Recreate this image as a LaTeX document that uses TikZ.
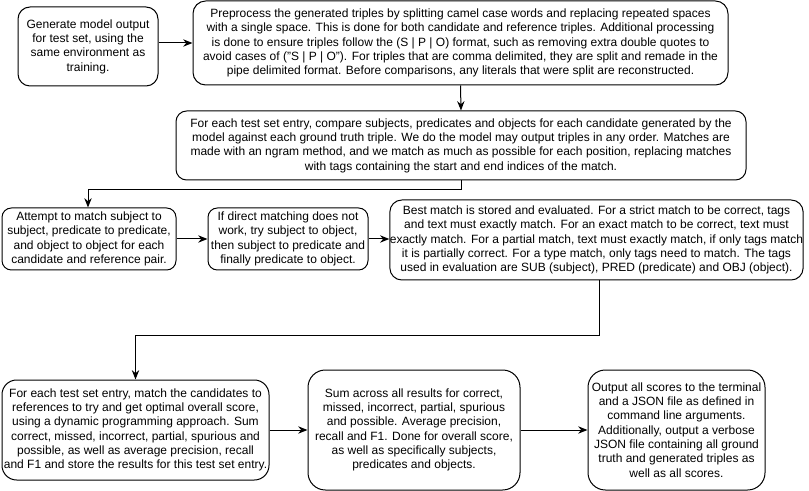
\documentclass[tikz,border=0pt]{standalone}
\usepackage{fontspec}
\setmainfont{Liberation Sans}
\usetikzlibrary{arrows.meta}
\begin{document}
\begin{tikzpicture}[x=0.75pt,y=-0.75pt,
  box/.style={draw,line width=0.75pt,align=center,inner sep=0pt,
    font=\fontsize{9}{10.75}\selectfont},
  conn/.style={draw,line width=0.75pt,-{Stealth[length=7pt,width=5.5pt]}}]
\useasboundingbox (0,0) rectangle (809,491);
\node[box,rounded corners=9pt,minimum width=140*0.75pt,minimum height=79*0.75pt] (A) at (88,46.5)
{Generate model output\\for test set, using the\\same environment as\\training.};
\node[box,rounded corners=9.5pt,minimum width=535*0.75pt,minimum height=84*0.75pt] (B) at (460.5,43)
{Preprocess the generated triples by splitting camel case words and replacing repeated spaces\\
with a single space. This is done for both candidate and reference triples. Additional processing\\
is done to ensure triples follow the (S | P | O) format, such as removing extra double quotes to\\
avoid cases of ("S | P | O"). For triples that are comma delimited, they are split and remade in the\\
pipe delimited format. Before comparisons, any literals that were split are reconstructed.};
\node[box,rounded corners=8pt,minimum width=570*0.75pt,minimum height=69*0.75pt] (C) at (461,145.5)
{For each test set entry, compare subjects, predicates and objects for each candidate generated by the\\
model against each ground truth triple. We do the model may output triples in any order. Matches are\\
made with an ngram method, and we match as much as possible for each position, replacing matches\\
with tags containing the start and end indices of the match.};
\node[box,rounded corners=7pt,minimum width=174*0.75pt,minimum height=62*0.75pt] (D) at (89,239)
{Attempt to match subject to\\subject, predicate to predicate,\\and object to object for each\\candidate and reference pair.};
\node[box,rounded corners=7pt,minimum width=160*0.75pt,minimum height=62*0.75pt] (E) at (288,239)
{If direct matching does not\\work, try subject to object,\\then subject to predicate and\\finally predicate to object.};
\node[box,rounded corners=9pt,minimum width=413*0.75pt,minimum height=80*0.75pt] (F) at (596.5,240)
{Best match is stored and evaluated. For a strict match to be correct, tags\\
and text must exactly match. For an exact match to be correct, text must\\
exactly match. For a partial match, text must exactly match, if only tags match\\
it is partially correct. For a type match, only tags need to match. The tags\\
used in evaluation are SUB (subject), PRED (predicate) and OBJ (object).};
\node[box,rounded corners=11pt,minimum width=267*0.75pt,minimum height=100*0.75pt] (G) at (135.5,430)
{For each test set entry, match the candidates to\\references to try and get optimal overall score,\\
using a dynamic programming approach. Sum\\correct, missed, incorrect, partial, spurious and\\
possible, as well as average precision, recall\\and F1 and store the results for this test set entry.};
\node[box,rounded corners=13pt,minimum width=212*0.75pt,minimum height=120*0.75pt] (H) at (414,430)
{Sum across all results for correct,\\missed, incorrect, partial, spurious\\and possible. Average precision,\\
recall and F1. Done for overall score,\\as well as specifically subjects,\\predicates and objects.};
\node[box,rounded corners=13pt,minimum width=177*0.75pt,minimum height=120*0.75pt] (I) at (676.5,430)
{Output all scores to the terminal\\and a JSON file as defined in\\command line arguments.\\
Additionally, output a verbose\\JSON file containing all ground\\truth and generated triples as\\well as all scores.};
\coordinate (c1) at (461,190);
\coordinate (c2) at (88,190);
\coordinate (f1) at (599,335);
\coordinate (f2) at (135.5,335);
\draw[conn] (A.east |- B.west) -- (B.west);
\draw[conn] (B.south) -- (C.north);
\draw[conn] (C.south) -- (c1) -- (c2) -- (D.north -| c2);
\draw[conn] (D.east) -- (E.west);
\draw[conn] (E.east) -- (E.east -| F.west);
\draw[conn] (F.south -| f1) -- (f1) -- (f2) -- (G.north);
\draw[conn] (G.east) -- (H.west);
\draw[conn] (H.east) -- (I.west);
\end{tikzpicture}
\end{document}
